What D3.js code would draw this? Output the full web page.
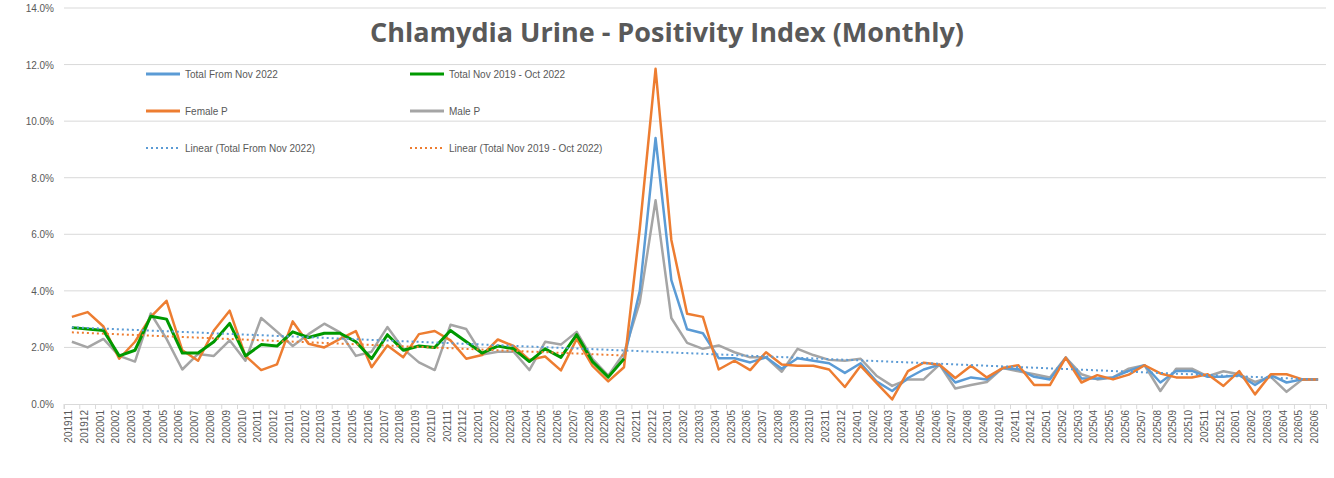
<!DOCTYPE html>
<html><head><meta charset="utf-8">
<script src="https://cdn.jsdelivr.net/npm/d3@7"></script>
<style>body{margin:0;background:#fff}svg{display:block}</style>
</head><body>
<script>
// months 201911 .. 202606
var months = [];
for (var y = 2019; y <= 2026; y++) for (var m = 1; m <= 12; m++) {
  var k = y * 100 + m;
  if (k >= 201911 && k <= 202606) months.push(String(k));
}

var totalOld = [2.7,2.65,2.6,1.7,1.9,3.1,3.0,1.8,1.8,2.2,2.85,1.7,2.1,2.05,2.55,2.35,2.5,2.5,2.2,1.6,2.45,1.9,2.05,2.0,2.6,2.2,1.8,2.05,1.95,1.5,1.95,1.65,2.45,1.5,0.95,1.6];
var totalNew = [4.0,9.4,4.38,2.64,2.5,1.62,1.62,1.47,1.65,1.25,1.62,1.53,1.44,1.1,1.44,0.8,0.46,0.92,1.22,1.39,0.76,0.94,0.87,1.27,1.23,0.96,0.87,1.64,0.9,0.9,0.94,1.17,1.37,0.76,1.17,1.17,0.96,0.96,1.02,0.67,1.02,0.76,0.87,0.87];
var female = [3.08,3.25,2.74,1.6,2.2,3.08,3.65,1.9,1.53,2.6,3.3,1.7,1.2,1.4,2.92,2.13,2.0,2.3,2.58,1.3,2.07,1.65,2.47,2.58,2.25,1.6,1.73,2.28,2.05,1.56,1.68,1.19,2.3,1.35,0.8,1.3,
  6.2,11.85,5.8,3.19,3.08,1.22,1.53,1.2,1.83,1.4,1.35,1.35,1.22,0.6,1.35,0.75,0.16,1.16,1.46,1.39,0.92,1.35,0.94,1.27,1.37,0.67,0.67,1.64,0.76,1.02,0.87,1.04,1.37,1.08,0.94,0.94,1.05,0.64,1.16,0.34,1.05,1.05,0.87,0.87];
var male = [2.2,2.0,2.3,1.7,1.5,3.2,2.3,1.22,1.77,1.7,2.25,1.53,3.04,2.56,2.05,2.47,2.84,2.53,1.7,1.85,2.72,1.95,1.47,1.2,2.8,2.65,1.75,1.85,1.85,1.2,2.2,2.1,2.55,1.6,1.0,1.8,
  3.6,7.2,3.04,2.16,1.95,2.07,1.83,1.65,1.65,1.14,1.95,1.73,1.56,1.53,1.6,1.0,0.64,0.87,0.87,1.39,0.55,0.67,0.78,1.27,1.16,1.05,0.94,1.64,1.05,0.87,0.94,1.25,1.37,0.46,1.25,1.25,0.98,1.16,1.05,0.78,0.96,0.43,0.87,0.87];
var yTicks = [0,2,4,6,8,10,12,14];

var W = 1334, H = 478;
var margin = {left: 64, right: 8, top: 8, bottom: 74};
var svg = d3.select("body").append("svg").attr("width", W).attr("height", H);

var x = d3.scaleBand().domain(months).range([margin.left, W - margin.right]);
var y = d3.scaleLinear().domain([0, 14]).range([H - margin.bottom, margin.top]);
var cx = function(i) { return x(months[i]) + x.bandwidth() / 2; };

// grid
svg.selectAll("line.grid").data(yTicks.slice(1)).enter().append("line")
   .attr("x1", margin.left).attr("x2", W - margin.right)
   .attr("y1", function(d) {return y(d);}).attr("y2", function(d) {return y(d);})
   .attr("stroke", "#d9d9d9").attr("stroke-width", 1);

svg.selectAll("text.ytick").data(yTicks).enter().append("text")
   .attr("x", margin.left - 10).attr("y", function(d) {return y(d) + 4;})
   .attr("text-anchor", "end").attr("font-family", "Liberation Sans, Arial").attr("font-size", 10)
   .attr("fill", "#595959").text(function(d) {return d.toFixed(1) + "%";});

// x axis
var xAxis = svg.append("g").attr("transform", "translate(0," + y(0) + ")")
   .call(d3.axisBottom(x).tickSizeOuter(0).tickSize(5));
xAxis.select(".domain").attr("stroke", "#d9d9d9");
xAxis.selectAll(".tick line").attr("stroke", "#d9d9d9").attr("transform", "translate(" + (-x.bandwidth()/2) + ",0)");
xAxis.selectAll("text").attr("font-family", "Liberation Sans, Arial").attr("font-size", 10).attr("fill", "#595959")
   .attr("transform", "rotate(-90)").attr("text-anchor", "end").attr("dy", "-0.25em").attr("y", 0).attr("x", -6)
   .style("alignment-baseline", "middle");

// trend lines (least squares)
function fit(vals) {
  var n = vals.length, sx = 0, sy = 0, sxx = 0, sxy = 0;
  vals.forEach(function(v, i) { sx += i; sy += v; sxx += i * i; sxy += i * v; });
  var b = (n * sxy - sx * sy) / (n * sxx - sx * sx);
  return {a: (sy - b * sx) / n, b: b, n: n};
}
var totalAll = totalOld.concat(totalNew);
var fAll = fit(totalAll), fOld = fit(totalOld);
function trend(f, color) {
  svg.append("line").attr("x1", cx(0)).attr("x2", cx(f.n - 1))
     .attr("y1", y(f.a)).attr("y2", y(f.a + f.b * (f.n - 1)))
     .attr("stroke", color).attr("stroke-width", 2).attr("stroke-dasharray", "2,3");
}

var line = d3.line().defined(function(d) {return d != null;})
  .x(function(d, i) {return cx(i);}).y(function(d) {return y(d);});
function series(vals, color, w) {
  svg.append("path").datum(vals).attr("d", line).attr("fill", "none")
     .attr("stroke", color).attr("stroke-width", w).attr("stroke-linejoin", "round");
}
var blueVals = totalOld.map(function() {return null;}); blueVals[35] = totalOld[35];
blueVals = blueVals.concat(totalNew);

series(male, "#a5a5a5", 2.5);
series(blueVals, "#5b9bd5", 2.5);
series(female, "#ed7d31", 2.5);
series(totalOld, "#009900", 3);
trend(fAll, "#5b9bd5");
trend(fOld, "#ed7d31");

// title
svg.append("text").attr("x", 667).attr("y", 42).attr("text-anchor", "middle")
   .attr("font-family", "Open Sans, sans-serif").attr("font-weight", "bold").attr("font-size", 27)
   .attr("fill", "#595959").text("Chlamydia Urine - Positivity Index (Monthly)");

// legend
var legend = [
  {t: "Total From Nov 2022", c: "#5b9bd5", x: 146, y: 74, w: 3},
  {t: "Total Nov 2019 - Oct 2022", c: "#009900", x: 410, y: 74, w: 3},
  {t: "Female P", c: "#ed7d31", x: 146, y: 111, w: 3},
  {t: "Male P", c: "#a5a5a5", x: 410, y: 111, w: 3},
  {t: "Linear (Total From Nov 2022)", c: "#5b9bd5", x: 146, y: 148, w: 2, d: "2,3"},
  {t: "Linear (Total Nov 2019 - Oct 2022)", c: "#ed7d31", x: 410, y: 148, w: 2, d: "2,3"}
];
var lg = svg.selectAll("g.lg").data(legend).enter().append("g");
lg.append("line").attr("x1", function(d) {return d.x;}).attr("x2", function(d) {return d.x + 34;})
  .attr("y1", function(d) {return d.y;}).attr("y2", function(d) {return d.y;})
  .attr("stroke", function(d) {return d.c;}).attr("stroke-width", function(d) {return d.w;})
  .attr("stroke-dasharray", function(d) {return d.d || null;});
lg.append("text").attr("x", function(d) {return d.x + 39;}).attr("y", function(d) {return d.y + 4;})
  .attr("font-family", "Liberation Sans, Arial").attr("font-size", 10).attr("fill", "#595959")
  .text(function(d) {return d.t;});
</script>
</body></html>
